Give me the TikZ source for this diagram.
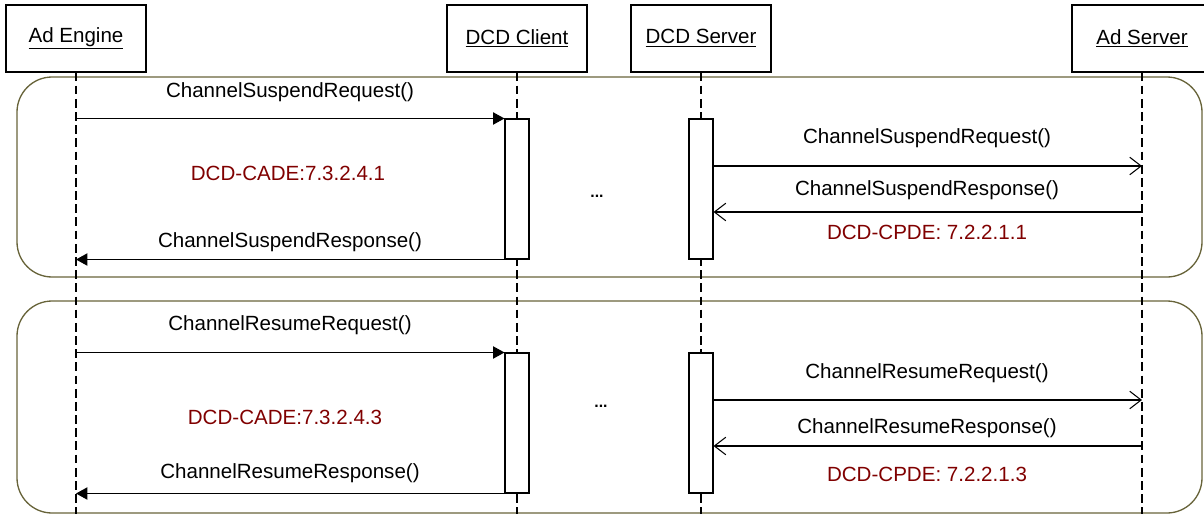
\documentclass[tikz,border=0pt]{standalone}
\usepackage{fontspec}
\setmainfont{Liberation Sans}
\usetikzlibrary{arrows.meta}
\definecolor{framecol}{RGB}{104,100,58}
\definecolor{refcol}{RGB}{128,0,0}

\begin{document}
\begin{tikzpicture}[
x=0.02cm,y=-0.02cm,line width=0.6pt,
font=\fontsize{11.7}{14}\selectfont,
actor/.style={draw,fill=white,minimum width=2.8cm,minimum height=1.34cm,inner sep=0pt},
actbox/.style={draw,fill=white,minimum width=0.48cm,minimum height=2.8cm,inner sep=0pt},
lifeline/.style={dash pattern=on 5pt off 2.5pt},
frame/.style={draw=framecol,line width=0.75pt,rounded corners=20pt},
call/.style={-{Triangle[length=6.5pt,width=7pt]}},
msg/.style={-{Straight Barb[length=6.5pt,width=10pt]}},
reflabel/.style={text=refcol},
dots/.style={font=\fontsize{9}{10}\bfseries}
]
\useasboundingbox (0,0) rectangle (1204,514);
\clip (0,0) rectangle (1204,514);
\coordinate (bottom) at (0,514);

% the two frames
\draw[frame] (17,77) rectangle (1202,277);
\draw[frame] (17,301) rectangle (1202,513);

% actors and lifelines
\node[actor] (eng) at (76,38.5) {\underline{Ad Engine}};
\node[actor] (cli) at (517,38.5) {\underline{DCD Client}};
\node[actor] (srv) at (701,38.5) {\underline{DCD Server}};
\node[actor] (ads) at (1142,38.5) {\underline{Ad Server}};
\foreach \a in {eng,cli,srv,ads}
{
\draw[lifeline] (\a.south) -- (\a.south |- bottom);
}

% activations
\node[actbox] (cli1) at (517,189) {};
\node[actbox] (srv1) at (701,189) {};
\node[actbox] (cli2) at (517,423) {};
\node[actbox] (srv2) at (701,423) {};

% suspend
\coordinate (eng1a) at (eng |- cli1.north);
\coordinate (eng1b) at (eng |- cli1.south);
\draw[call] (eng1a) -- (cli1.north west);
\draw[call] (cli1.south west) -- (eng1b);
\path ([yshift=0.46cm]srv1.east) coordinate (srv1a);
\path ([yshift=-0.46cm]srv1.east) coordinate (srv1b);
\coordinate (ads1a) at (ads |- srv1a);
\coordinate (ads1b) at (ads |- srv1b);
\draw[msg] (srv1a) -- (ads1a);
\draw[msg] (ads1b) -- (srv1b);
\node (lq1) at (290,92) {ChannelSuspendRequest()};
\node[reflabel] (lc1) at (288,173) {DCD-CADE:7.3.2.4.1};
\node (lr1) at (290,242) {ChannelSuspendResponse()};
\node[dots] (dt1) at (597,196) {...};
\node (rq1) at (927,138) {ChannelSuspendRequest()};
\node (rr1) at (927,190) {ChannelSuspendResponse()};
\node[reflabel] (rc1) at (927,232) {DCD-CPDE: 7.2.2.1.1};

% resume
\coordinate (eng2a) at (eng |- cli2.north);
\coordinate (eng2b) at (eng |- cli2.south);
\draw[call] (eng2a) -- (cli2.north west);
\draw[call] (cli2.south west) -- (eng2b);
\path ([yshift=0.46cm]srv2.east) coordinate (srv2a);
\path ([yshift=-0.46cm]srv2.east) coordinate (srv2b);
\coordinate (ads2a) at (ads |- srv2a);
\coordinate (ads2b) at (ads |- srv2b);
\draw[msg] (srv2a) -- (ads2a);
\draw[msg] (ads2b) -- (srv2b);
\node (lq2) at (290,325) {ChannelResumeRequest()};
\node[reflabel] (lc2) at (285,417) {DCD-CADE:7.3.2.4.3};
\node (lr2) at (290,473) {ChannelResumeResponse()};
\node[dots] (dt2) at (601,406) {...};
\node (rq2) at (927,373) {ChannelResumeRequest()};
\node (rr2) at (927,428) {ChannelResumeResponse()};
\node[reflabel] (rc2) at (927,474) {DCD-CPDE: 7.2.2.1.3};
\end{tikzpicture}
\end{document}
